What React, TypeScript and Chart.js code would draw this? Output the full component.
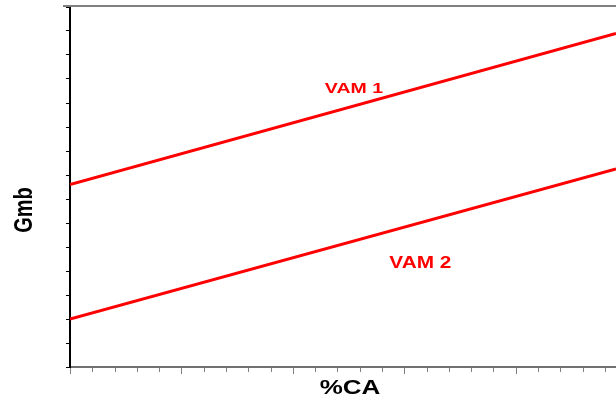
import React, { useEffect, useRef } from "react";
import { Chart, registerables } from "chart.js";

Chart.register(...registerables);

// ---- data ----
const xValues = [0, 24.5];
const vam1 = [7.6, 13.9];
const vam2 = [2.0, 8.25];
const seriesNames = ["VAM 1", "VAM 2"];
const labelX = [12.74, 15.72];
const labelY = [11.63, 4.35];
const xTitle = "%CA";
const yTitle = "Gmb";
const xTickValues = [0, 1, 2, 3, 4, 5, 6, 7, 8, 9, 10, 11, 12, 13, 14, 15, 16, 17, 18, 19, 20, 21, 22, 23, 24];

const STRETCH = 1.3;
const FONT = '"Liberation Sans", Arial, sans-serif';

function drawText(ctx: CanvasRenderingContext2D, text: string, cx: number, cy: number, size: number, color: string, rot = 0) {
  ctx.save();
  ctx.translate(cx, cy);
  ctx.scale(STRETCH, 1);
  if (rot) ctx.rotate(rot);
  ctx.font = `bold ${size}px ${FONT}`;
  ctx.fillStyle = color;
  ctx.textAlign = "center";
  ctx.textBaseline = "alphabetic";
  ctx.fillText(text, 0, 0.36 * size);
  ctx.restore();
}

const decorPlugin = {
  id: "decor",
  afterDraw(chart: any) {
    const ctx: CanvasRenderingContext2D = chart.ctx;
    const { left, right, top, bottom } = chart.chartArea;
    const xs = chart.scales.x;
    const ys = chart.scales.y;
    ctx.save();
    // top border
    ctx.strokeStyle = "#808080";
    ctx.lineWidth = 2;
    ctx.beginPath();
    ctx.moveTo(left - 7, top - 1);
    ctx.lineTo(right, top - 1);
    ctx.stroke();
    // x ticks
    ctx.strokeStyle = "#808080";
    ctx.lineWidth = 1;
    xTickValues.forEach((v) => {
      const px = Math.round(xs.getPixelForValue(v)) + 0.5;
      const len = v % 5 === 0 ? 6 : 4;
      ctx.beginPath();
      ctx.moveTo(px, bottom + 1);
      ctx.lineTo(px, bottom + 1 + len);
      ctx.stroke();
    });
    ctx.restore();
    // axis titles
    drawText(ctx, xTitle, 350, 387, 20, "#000000");
    drawText(ctx, yTitle, 23, 210, 20, "#000000", -Math.PI / 2);
    // series labels
    const sizes = [15, 16];
    seriesNames.forEach((name, i) => {
      drawText(ctx, name, xs.getPixelForValue(labelX[i]), ys.getPixelForValue(labelY[i]), sizes[i], "#ff0000");
    });
  },
};

export default function App() {
  const ref = useRef<HTMLCanvasElement | null>(null);
  useEffect(() => {
    if (!ref.current) return;
    const mk = (vals: number[]) => xValues.map((x, i) => ({ x, y: vals[i] }));
    const chart = new Chart(ref.current, {
      type: "line",
      data: {
        datasets: [
          { label: seriesNames[0], data: mk(vam1), borderColor: "#ff0000", borderWidth: 3, pointRadius: 0, fill: false, tension: 0 },
          { label: seriesNames[1], data: mk(vam2), borderColor: "#ff0000", borderWidth: 3, pointRadius: 0, fill: false, tension: 0 },
        ],
      },
      options: {
        responsive: false,
        animation: false,
        devicePixelRatio: 1,
        layout: { padding: { top: 7, left: 0, right: 0, bottom: 0 } },
        plugins: { legend: { display: false }, tooltip: { enabled: false } },
        scales: {
          x: {
            type: "linear",
            min: 0,
            max: 24.5,
            ticks: { display: false },
            grid: { display: false },
            border: { display: true, color: "#707070", width: 2 },
            afterFit: (s: any) => { s.height = 33; },
          },
          y: {
            type: "linear",
            min: 0,
            max: 15,
            ticks: { display: false, stepSize: 1 },
            grid: { display: true, drawOnChartArea: false, drawTicks: true, tickLength: 4, color: "#000000", lineWidth: 1 },
            border: { display: true, color: "#000000", width: 2 },
            afterFit: (s: any) => { s.width = 70; },
          },
        },
      },
      plugins: [decorPlugin],
    });
    return () => chart.destroy();
  }, []);
  return (
    <div style={{ position: "fixed", left: 0, top: 0, width: 616, height: 400, overflow: "hidden", background: "#fff" }}>
      <canvas ref={ref} width={616} height={400} style={{ display: "block" }} />
    </div>
  );
}
